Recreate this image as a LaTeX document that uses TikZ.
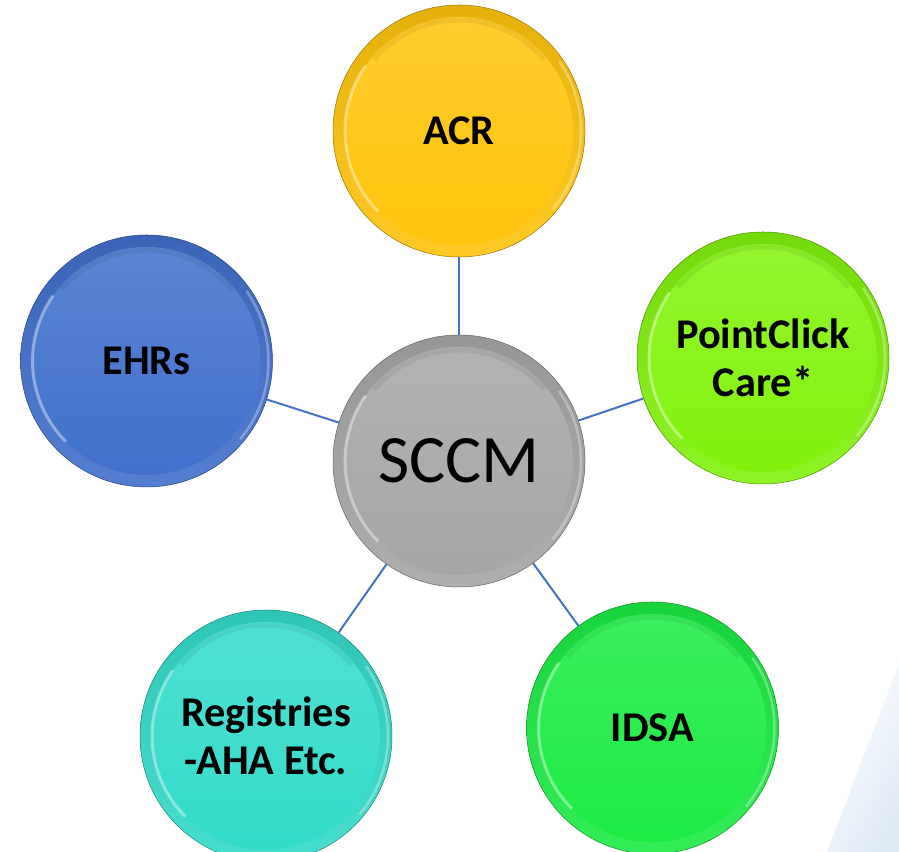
\documentclass[tikz,border=0pt]{standalone}
\usepackage{fontspec}
\setmainfont{Carlito}
\definecolor{acrcol}{HTML}{FFC40C}
\definecolor{pcccol}{HTML}{82F20C}
\definecolor{ehrcol}{HTML}{4070CC}
\definecolor{regcol}{HTML}{33DBCB}
\definecolor{idsacol}{HTML}{1CEB43}
\definecolor{sccmcol}{HTML}{A6A6A6}
\definecolor{linkblue}{HTML}{4472C4}
\definecolor{paleblue}{HTML}{DFEAF6}
\begin{document}
\begin{tikzpicture}[x=1bp,y=1bp,
  bubble/.style={circle, minimum size=252bp, inner sep=0pt,
    draw=#1!60!black, line width=0.5bp,
    top color=#1!90!black, bottom color=#1!90!white,
    align=center, text=black,
    path picture={
      \coordinate (pc) at (path picture bounding box.center);
      \shade[top color=#1!86!white, bottom color=#1] (pc) circle (114bp);
      \draw[black, opacity=0.06, line width=5bp] ([shift={(40:111bp)}]pc) arc (40:140:111bp);
      \draw[white, opacity=0.4, line width=3bp] ([shift={(145:114bp)}]pc) arc (145:225:114bp);
      \draw[white, opacity=0.3, line width=2.5bp] ([shift={(-40:122bp)}]pc) arc (-40:35:122bp);
    }},
  tag/.style={font=\fontsize{42.5}{48}\selectfont\bfseries},
  hub/.style={font=\fontsize{68}{80}\selectfont},
  link/.style={draw=linkblue, line width=2bp}
]
\useasboundingbox (0,0) rectangle (899,852);
\clip (0,0) rectangle (899,852);
\fill[white] (0,0) rectangle (899,852);

% pale backdrop wedge in the lower right corner
\shade[left color=white, right color=paleblue, shading angle=60]
  (899,189) -- (827,0) -- (899,0) -- cycle;

% the hub and its five partners
\node[bubble=sccmcol, hub] (sccm) at (459,391) {SCCM};
\node[bubble=acrcol, tag]  (acr)  at (459,721) {ACR};
\node[bubble=pcccol, tag]  (pcc)  at (763,494)   {PointClick\\Care*};
\node[bubble=ehrcol, tag]  (ehrs) at (146.5,491) {EHRs};
\node[bubble=regcol, tag]  (reg)  at (266,116)   {Registries\\-AHA Etc.};
\node[bubble=idsacol, tag] (idsa) at (652.5,124) {IDSA};

% spokes
\draw[link] (sccm) -- (acr);
\draw[link] (sccm) -- (pcc);
\draw[link] (sccm) -- (ehrs);
\draw[link] (sccm) -- (reg);
\draw[link] (sccm) -- (idsa);
\end{tikzpicture}
\end{document}
